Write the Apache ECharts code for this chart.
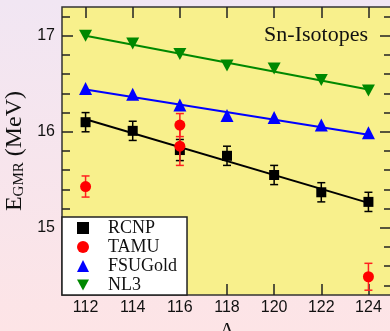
<!DOCTYPE html>
<html>
<head>
<meta charset="utf-8">
<script src="https://cdn.jsdelivr.net/npm/echarts@6/dist/echarts.min.js"></script>
<style>
  html, body { margin: 0; padding: 0; }
  #chart { width: 390px; height: 331px; }
</style>
</head>
<body>
<div id="chart"></div>
<script>
// Sn isotopes, GMR energies
const isotopes = [112, 114, 116, 118, 120, 122, 124]
const rcnp = [16.10, 16.01, 15.81, 15.75, 15.55, 15.37, 15.27]
const rcnpErr = [0.10, 0.10, 0.11, 0.10, 0.10, 0.10, 0.10]
const tamuA = [112, 116, 116, 124]
const tamu = [15.43, 16.07, 15.85, 14.49]
const tamuErr = [0.11, 0.12, 0.20, 0.14]
const fsugold = [16.45, 16.39, 16.28, 16.17, 16.15, 16.07, 15.99]
const nl3 = [17.00, 16.92, 16.81, 16.69, 16.66, 16.54, 16.43]

// straight-line fits, end points
const fitA = [112, 124]
const rcnpFit = [16.13, 15.26]
const fsuFit = [16.44, 15.97]
const nl3Fit = [17.00, 16.44]

const xTicks = [112, 114, 116, 118, 120, 122, 124]
const yMajor = [15, 16, 17]
const yMinor = [14.4, 14.6, 14.8, 15.2, 15.4, 15.6, 15.8, 16.2, 16.4, 16.6, 16.8, 17.2]

const chart = echarts.init(document.getElementById('chart'))

const pairs = (xs, ys) => xs.map((x, i) => [x, ys[i]])
const errData = (xs, ys, es) => xs.map((x, i) => [x, ys[i] - es[i], ys[i] + es[i]])

const errorBars = (color) => (params, api) => {
  const lo = api.coord([api.value(0), api.value(1)])
  const hi = api.coord([api.value(0), api.value(2)])
  const w = 4
  const style = { stroke: color, lineWidth: 1.5 }
  return {
    type: 'group',
    children: [
      { type: 'line', shape: { x1: lo[0], y1: lo[1], x2: hi[0], y2: hi[1] }, style },
      { type: 'line', shape: { x1: lo[0] - w, y1: lo[1], x2: lo[0] + w, y2: lo[1] }, style },
      { type: 'line', shape: { x1: hi[0] - w, y1: hi[1], x2: hi[0] + w, y2: hi[1] }, style }
    ]
  }
}

const serif = '"Liberation Serif", "DejaVu Serif", serif'
const sans = '"Liberation Sans", Arial, sans-serif'
const yRange = { min: 14.3, max: 17.3 }
const downTri = 'path://M0,0 L10,0 L5,9 Z'

const yAxisBase = (extra) => Object.assign({
  type: 'value',
  min: yRange.min,
  max: yRange.max,
  splitLine: { show: false },
  axisLine: { show: false },
  axisLabel: { show: false }
}, extra)

const option = {
  backgroundColor: new echarts.graphic.LinearGradient(0, 0, 0, 1, [
    { offset: 0, color: '#f1e6f3' },
    { offset: 1, color: '#fde4e6' }
  ]),
  animation: false,
  grid: {
    left: 62, top: 7, width: 330, height: 288,
    outerBoundsMode: 'none',
    containLabel: false,
    show: true,
    backgroundColor: '#f8f08c',
    borderColor: '#333',
    borderWidth: 1.5
  },
  graphic: [{
    type: 'text',
    right: 22,
    top: 24,
    style: { text: 'Sn-Isotopes', font: '22px ' + serif, fill: '#111' }
  }],
  legend: {
    data: [
      { name: 'RCNP', icon: 'rect' },
      { name: 'TAMU', icon: 'circle' },
      { name: 'FSUGold', icon: 'triangle' },
      { name: 'NL3', icon: downTri }
    ],
    orient: 'vertical',
    left: 62,
    bottom: 36,
    padding: [2, 10, 1, 15],
    itemGap: 1,
    itemWidth: 12,
    itemHeight: 12,
    backgroundColor: '#fff',
    borderColor: '#222',
    borderWidth: 1.5,
    borderRadius: 0,
    selectedMode: false,
    textStyle: { fontFamily: serif, fontSize: 18, lineHeight: 16, color: '#111', padding: [0, 0, 0, 14] }
  },
  xAxis: [{
    type: 'value',
    min: 111,
    max: 125,
    name: 'A',
    nameLocation: 'middle',
    nameGap: 22,
    nameTextStyle: { fontFamily: serif, fontSize: 21, color: '#111' },
    splitLine: { show: false },
    axisLine: { show: false },
    axisTick: { inside: true, length: 11, customValues: xTicks, lineStyle: { color: '#222', width: 1.5 } },
    axisLabel: { customValues: xTicks, margin: 5, fontFamily: sans, fontSize: 16, color: '#111' }
  }, {
    type: 'value',
    position: 'top',
    min: 111,
    max: 125,
    splitLine: { show: false },
    axisLine: { show: false },
    axisLabel: { show: false },
    axisTick: { inside: true, length: 11, customValues: xTicks, lineStyle: { color: '#222', width: 1.5 } }
  }],
  yAxis: [
    yAxisBase({
      position: 'left',
      name: '{e|E}{s|GMR}{e| (MeV)}',
      nameLocation: 'middle',
      nameGap: 31,
      nameTextStyle: {
        rich: {
          e: { fontFamily: serif, fontSize: 24, color: '#111' },
          s: { fontFamily: serif, fontSize: 15, color: '#111', verticalAlign: 'bottom', padding: [8, 0, 0, 0] }
        }
      },
      axisTick: { inside: true, length: 11, customValues: yMajor, lineStyle: { color: '#222', width: 1.5 } },
      axisLabel: { show: true, customValues: yMajor, margin: 7, fontFamily: sans, fontSize: 16, color: '#111' }
    }),
    yAxisBase({
      position: 'left',
      axisTick: { inside: true, length: 8, customValues: yMinor, lineStyle: { color: '#222', width: 1.5 } }
    }),
    yAxisBase({
      position: 'right',
      offset: 0,
      axisTick: { inside: true, length: 12, customValues: yMajor, lineStyle: { color: '#222', width: 1.5 } }
    }),
    yAxisBase({
      position: 'right',
      offset: 0,
      axisTick: { inside: true, length: 8, customValues: yMinor, lineStyle: { color: '#222', width: 1.5 } }
    })
  ],
  series: [
    {
      name: 'nl3-fit', type: 'line', data: pairs(fitA, nl3Fit), symbol: 'none', z: 2,
      lineStyle: { color: '#008800', width: 2 }
    },
    {
      name: 'fsu-fit', type: 'line', data: pairs(fitA, fsuFit), symbol: 'none', z: 2,
      lineStyle: { color: '#0000ff', width: 2 }
    },
    {
      name: 'rcnp-fit', type: 'line', data: pairs(fitA, rcnpFit), symbol: 'none', z: 2,
      lineStyle: { color: '#000', width: 2 }
    },
    {
      name: 'rcnp-err', type: 'custom', renderItem: errorBars('#000'), z: 3,
      encode: { x: 0, y: [1, 2] }, data: errData(isotopes, rcnp, rcnpErr)
    },
    {
      name: 'RCNP', type: 'scatter', symbol: 'rect', symbolSize: 10, z: 4,
      itemStyle: { color: '#000', opacity: 1 }, data: pairs(isotopes, rcnp)
    },
    {
      name: 'FSUGold', type: 'scatter', symbol: 'triangle', symbolSize: 13, z: 4,
      itemStyle: { color: '#0000ff', opacity: 1 }, data: pairs(isotopes, fsugold)
    },
    {
      name: 'NL3', type: 'scatter', symbol: downTri, symbolSize: [13, 12], z: 4,
      itemStyle: { color: '#008800', opacity: 1 }, data: pairs(isotopes, nl3)
    },
    {
      name: 'tamu-err', type: 'custom', renderItem: errorBars('#ff2020'), z: 5,
      encode: { x: 0, y: [1, 2] }, data: errData(tamuA, tamu, tamuErr)
    },
    {
      name: 'TAMU', type: 'scatter', symbol: 'circle', symbolSize: 11, z: 6,
      itemStyle: { color: '#ff0000', opacity: 1 }, data: pairs(tamuA, tamu)
    }
  ]
}

chart.setOption(option)
</script>
</body>
</html>
